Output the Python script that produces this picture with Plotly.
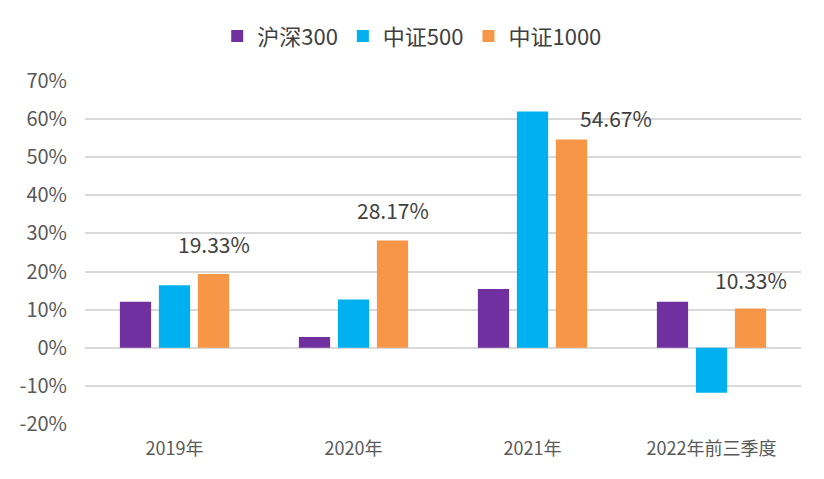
import plotly.graph_objects as go

categories = ["2019年", "2020年", "2021年", "2022年前三季度"]
series_names = ["沪深300", "中证500", "中证1000"]
hs300 = [12.1, 2.8, 15.4, 12.1]
zz500 = [16.4, 12.7, 62.0, -11.8]
zz1000 = [19.33, 28.17, 54.67, 10.33]
colors = ["#7030A0", "#00B0F0", "#F79646"]
y_ticks = [-20, -10, 0, 10, 20, 30, 40, 50, 60, 70]

FONT = "Noto Sans CJK SC, Open Sans, sans-serif"
bargap = 0.346
fig = go.Figure()
for name, vals, c in zip(series_names, [hs300, zz500, zz1000], colors):
    fig.add_trace(go.Bar(x=list(range(len(categories))), y=vals, name=name, marker_color=c,
                         marker_line_width=0))

slot = (1 - bargap) / 3
label_xshift = [0, 0, 44, 0]
label_yshift = [13, 13, 4, 11]
for i, v in enumerate(zz1000):
    fig.add_annotation(x=i + slot, y=v, text=f"{v:.2f}%", showarrow=False,
                       yanchor="bottom", yshift=label_yshift[i], xshift=label_xshift[i],
                       font=dict(family=FONT, size=21, color="#404040"))

fig.update_layout(
    width=816, height=471,
    margin=dict(l=77, r=23, t=73, b=55, autoexpand=False),
    paper_bgcolor="white", plot_bgcolor="white",
    barmode="group", bargap=bargap, bargroupgap=0.2,
    font=dict(family=FONT, color="#595959"),
    legend=dict(orientation="h", x=0.457, xanchor="center", y=0.94, yanchor="middle",
                yref="container",
                font=dict(family=FONT, size=22, color="#404040"), itemwidth=30,
                traceorder="normal"),
    xaxis=dict(tickmode="array", tickvals=list(range(len(categories))), ticktext=categories,
               range=[-0.5, len(categories) - 0.5], showgrid=False, showline=False,
               zeroline=False, tickfont=dict(family=FONT, size=18, color="#595959"),
               ticklabelstandoff=12, automargin=False),
    yaxis=dict(range=[-20, 70], tickvals=y_ticks, ticktext=[f"{t}%" for t in y_ticks],
               showgrid=True, gridcolor="#D9D9D9", gridwidth=2, zeroline=True,
               zerolinecolor="#D9D9D9", zerolinewidth=2, showline=False, automargin=False,
               tickfont=dict(family=FONT, size=20, color="#595959"), ticklabelstandoff=17),
)
fig.write_html("out.html")
